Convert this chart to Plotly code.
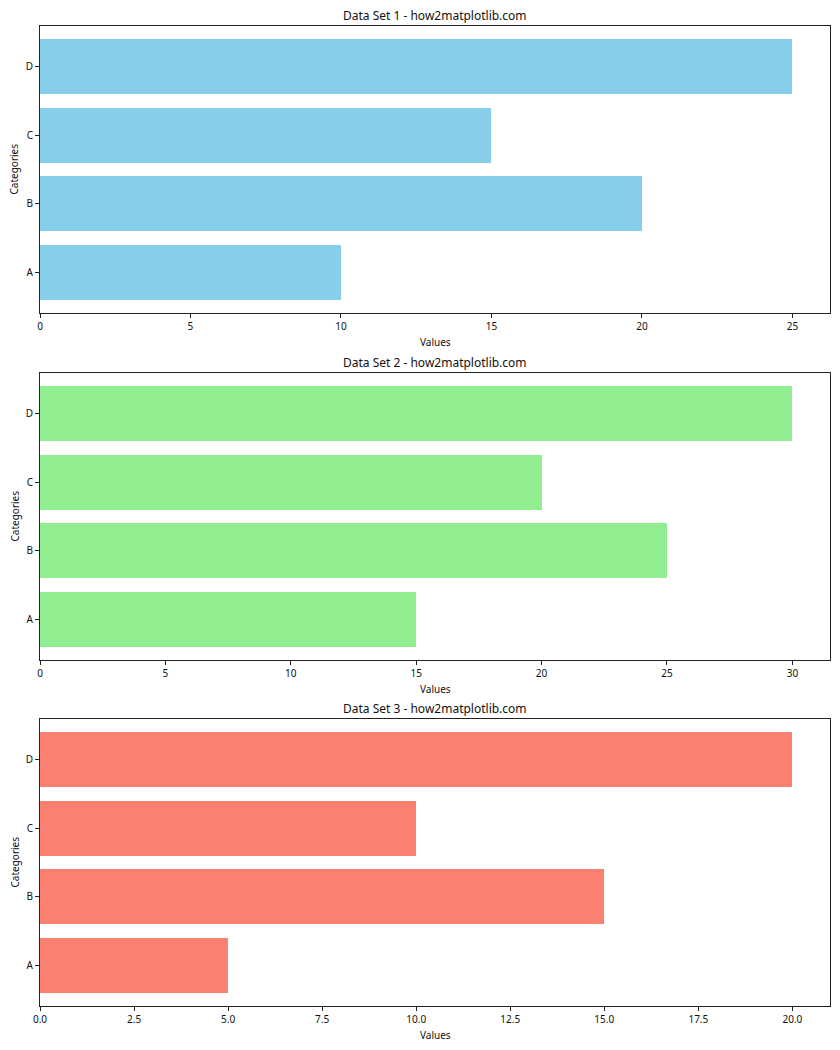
import plotly.graph_objects as go

categories = ["A", "B", "C", "D"]
values_1 = [10, 20, 15, 25]
values_2 = [15, 25, 20, 30]
values_3 = [5, 15, 10, 20]
titles = ["Data Set 1 - how2matplotlib.com", "Data Set 2 - how2matplotlib.com", "Data Set 3 - how2matplotlib.com"]
colors = ["#87CEEB", "#90EE90", "#FA8072"]
series = [values_1, values_2, values_3]
x_ticks = [[0, 5, 10, 15, 20, 25], [0, 5, 10, 15, 20, 25, 30], [0, 2.5, 5, 7.5, 10, 12.5, 15, 17.5, 20]]
x_tick_text = [["0", "5", "10", "15", "20", "25"], ["0", "5", "10", "15", "20", "25", "30"],
               ["0.0", "2.5", "5.0", "7.5", "10.0", "12.5", "15.0", "17.5", "20.0"]]

# page body has an 8px margin; compensate so the plot lands at window pixels
OFF = 8
W, H = 840 - OFF, 1050 - OFF
ml, mr, mt, mb = 40 - OFF, 10, 26 - OFF, 44
plot_h = H - mt - mb
# window-pixel tops/bottoms of each panel
panels_px = [(26, 313), (373, 660), (719, 1006)]

font_family = "Noto Sans, DejaVu Sans, sans-serif"
fig = go.Figure()
annotations = []
for i, (vals, col) in enumerate(zip(series, colors)):
    idx = "" if i == 0 else str(i + 1)
    xa, ya = "x" + idx, "y" + idx
    fig.add_trace(go.Bar(x=vals, y=categories, orientation="h", width=0.8,
                         marker=dict(color=col, line=dict(width=0)),
                         xaxis=xa, yaxis=ya, showlegend=False))
    top, bot = panels_px[i]
    d0 = (1006 - bot) / plot_h
    d1 = (1006 - top) / plot_h
    vmax = max(vals) * 1.05
    axis_common = dict(showline=True, linecolor="#222", linewidth=1, mirror=True,
                       ticks="outside", ticklen=4, tickcolor="#222", tickwidth=1,
                       showgrid=False, zeroline=False,
                       tickfont=dict(size=10, color="#111", family=font_family))
    fig.layout["xaxis" + idx] = dict(domain=[0, 1], anchor=ya, range=[0, vmax],
                                     tickmode="array", tickvals=x_ticks[i], ticktext=x_tick_text[i],
                                     **axis_common)
    fig.layout["yaxis" + idx] = dict(domain=[d0, d1], anchor=xa, range=[-0.59, 3.59],
                                     type="category", categoryorder="array", categoryarray=categories,
                                     **axis_common)
    annotations.append(dict(text=titles[i], xref="paper", yref="paper", x=0.5,
                            y=d1, yshift=0, xanchor="center", yanchor="bottom", showarrow=False,
                            font=dict(size=12, color="#111", family=font_family)))
    annotations.append(dict(text="Values", xref="paper", yref="paper", x=0.5,
                            y=d0, yshift=-20, xanchor="center", yanchor="top", showarrow=False,
                            font=dict(size=10, color="#111", family=font_family)))
    annotations.append(dict(text="Categories", xref="paper", yref="paper", x=0, xshift=-26,
                            y=(d0 + d1) / 2, xanchor="center", yanchor="middle", textangle=-90,
                            showarrow=False, font=dict(size=10, color="#111", family=font_family)))

fig.update_layout(width=W, height=H, margin=dict(l=ml, r=mr, t=mt, b=mb),
                  plot_bgcolor="white", paper_bgcolor="white", annotations=annotations,
                  bargap=0)
fig.write_html("out.html")
